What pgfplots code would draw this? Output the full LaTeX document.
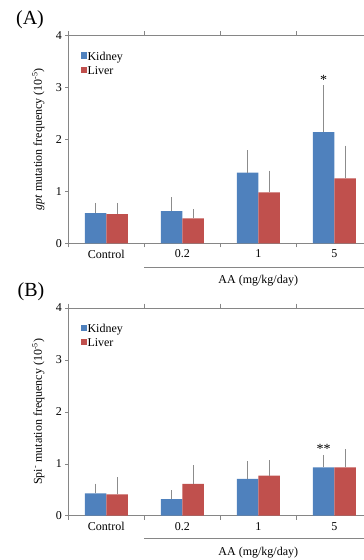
\documentclass[border=0pt]{standalone}
\usepackage{fontspec}
\setmainfont{Liberation Serif}
\usepackage{pgfplots}
\pgfplotsset{compat=1.18}
\definecolor{kid}{HTML}{4F81BD}
\definecolor{liv}{HTML}{C0504D}
\definecolor{axgray}{HTML}{868686}
\definecolor{errgray}{HTML}{8C8C8C}
\newcommand{\tw}{\fontsize{12}{14}\selectfont}
\pgfplotsset{
  mystyle/.style={
    scale only axis, width=304pt, height=208pt,
    xmin=-0.5, xmax=3.5, ymin=0, ymax=4,
    ybar=0pt, bar width=21.5pt,
    xtick={0,1,2,3}, xticklabels={Control,0.2,1,5},
    minor xtick={-0.5,0.5,1.5,2.5,3.5},
    ytick={0,1,2,3,4},
    tick align=outside,
    major x tick style={draw=none},
    minor tick length=4pt, major tick length=3pt,
    axis line style={axgray},
    every tick/.style={axgray},
    tick label style={font=\tw},
    /pgf/number format/assume math mode=true,
    clip=false,
    every axis y label/.style={at={(rel axis cs:0,0.5)}, xshift=-30pt, rotate=90, anchor=center, font=\tw},
    legend style={at={(rel axis cs:0,1)}, anchor=north west, xshift=12pt, yshift=-16pt, draw=none, fill=none, font=\tw, row sep=3.5pt, inner sep=0pt, nodes={inner sep=0.5pt}},
    legend cell align=left,
    legend image code/.code={\fill[##1] (0pt,-2pt) rectangle (6.5pt,4.5pt);},
    error bars/y dir=plus, error bars/y explicit,
    error bars/error bar style={errgray, line width=0.9pt},
    error bars/error mark options={errgray, mark size=3pt, line width=0.9pt},
  }
}
\pgfplotstableread{
x k ke l le
0 0.58 0.14 0.56 0.16
1 0.62 0.21 0.48 0.12
2 1.36 0.37 0.98 0.36
3 2.14 0.84 1.25 0.57
}\dataA
\pgfplotstableread{
x k ke l le
0 0.43 0.13 0.41 0.27
1 0.32 0.11 0.61 0.30
2 0.71 0.28 0.77 0.24
3 0.93 0.18 0.93 0.29
}\dataB
\begin{document}
\begin{tikzpicture}
\useasboundingbox (0,0) rectangle (364pt,560pt);
\clip (0,0) rectangle (364pt,560pt);
\node[font=\fontsize{20}{22}\selectfont] at (30pt,540pt) {(A)};
\node[font=\fontsize{20}{22}\selectfont] at (31pt,268pt) {(B)};
\begin{axis}[mystyle, at={(68.3pt,316.7pt)}, anchor=south west,
  ylabel={\textit{gpt} mutation frequency (10\textsuperscript{-5})}]
\addplot[fill=kid, draw=none] table[x=x, y=k, y error=ke] {\dataA};
\addplot[fill=liv, draw=none] table[x=x, y=l, y error=le] {\dataA};
\legend{Kidney, Liver}
\draw[axgray] ([yshift=-24pt]axis cs:0.5,0) -- ([yshift=-24pt]axis cs:3.5,0);
\node[font=\tw] at ([yshift=-37pt]axis cs:2,0) {AA (mg/kg/day)};
\node[font=\fontsize{14}{14}\selectfont, inner sep=0pt] at ([xshift=-10.75pt]axis cs:3,3.15) {*};
\end{axis}
\begin{axis}[mystyle, at={(68.3pt,44.3pt)}, anchor=south west,
  ylabel={Spi\textsuperscript{-} mutation frequency (10\textsuperscript{-5})}]
\addplot[fill=kid, draw=none] table[x=x, y=k, y error=ke] {\dataB};
\addplot[fill=liv, draw=none] table[x=x, y=l, y error=le] {\dataB};
\legend{Kidney, Liver}
\draw[axgray] ([yshift=-22.5pt]axis cs:0.5,0) -- ([yshift=-22.5pt]axis cs:3.5,0);
\node[font=\tw] at ([yshift=-37pt]axis cs:2,0) {AA (mg/kg/day)};
\node[font=\fontsize{14}{14}\selectfont, inner sep=0pt] at ([xshift=-10.75pt]axis cs:3,1.29) {**};
\end{axis}
\end{tikzpicture}
\end{document}
